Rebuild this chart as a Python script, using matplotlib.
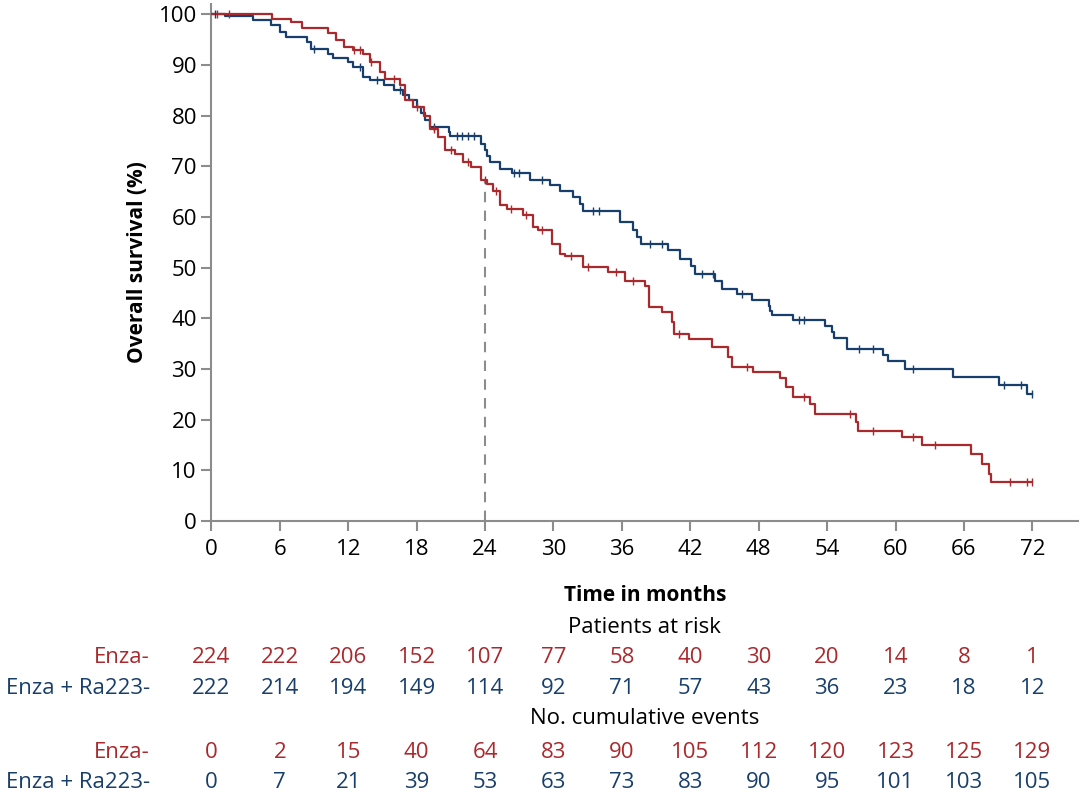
import numpy as np
import matplotlib
matplotlib.use('Agg')
import matplotlib.pyplot as plt
from matplotlib.transforms import blended_transform_factory

plt.rcParams['font.family'] = ['Open Sans', 'DejaVu Sans']

RED = '#aa292d'
BLUE = '#183f6b'
GREY = '#8c8c8c'
FS = 16      # tick labels and table
FS_B = 15    # bold axis titles

# Kaplan-Meier steps (time in months, survival %)
enza_t = [0, 5.3, 7.0, 7.9, 10.2, 10.9, 11.6, 12.4, 13.3, 13.9, 14.8, 15.2, 16.5, 17.0,
          17.7, 18.6, 19.2, 19.9, 20.5, 21.4, 22.1, 22.8, 23.6, 24.2, 24.7, 25.3, 25.9,
          27.3, 28.2, 28.6, 29.9, 30.6, 31.0, 32.6, 34.8, 36.3, 38.0, 38.4, 39.5, 40.4,
          40.6, 41.9, 43.9, 45.3, 45.7, 47.5, 49.9, 50.4, 51.0, 52.5, 52.9, 56.5, 56.7,
          60.6, 62.3, 66.6, 67.6, 68.2, 68.4, 72.0]
enza_s = [100, 99.1, 98.5, 97.3, 96.2, 94.9, 93.5, 93.0, 92.2, 90.6, 88.6, 87.3, 86.0, 83.0,
          81.7, 80.0, 77.4, 75.8, 73.1, 72.5, 70.8, 69.8, 67.2, 66.5, 65.2, 62.3, 61.5,
          60.3, 58.0, 57.5, 54.7, 52.7, 52.2, 50.1, 49.2, 47.4, 46.4, 42.2, 41.2, 39.2,
          36.9, 35.9, 34.3, 32.3, 30.3, 29.3, 28.3, 26.4, 24.4, 23.0, 21.2, 19.5, 17.7,
          16.5, 15.0, 13.2, 11.2, 9.2, 7.6, 7.6]

ra_t = [0, 1.2, 3.6, 5.2, 6.0, 6.5, 8.4, 8.7, 10.2, 10.7, 12.0, 12.4, 13.3, 13.9, 15.1,
        16.0, 16.8, 17.3, 18.0, 18.4, 18.7, 19.2, 20.8, 20.9, 23.6, 24.0, 24.2, 24.4,
        25.3, 26.4, 27.9, 29.7, 30.6, 31.7, 32.3, 32.6, 35.8, 37.0, 37.3, 37.7, 40.0,
        41.1, 42.1, 42.4, 44.2, 44.8, 46.1, 47.4, 48.9, 49.0, 49.2, 51.0, 53.8, 54.4,
        54.6, 55.7, 58.9, 59.3, 60.8, 65.0, 69.1, 71.5, 72.0]
ra_s = [100, 99.6, 98.8, 97.8, 96.5, 95.5, 94.5, 93.2, 92.2, 91.4, 90.6, 89.6, 87.6, 87.0,
        86.0, 85.0, 84.0, 83.0, 81.7, 80.4, 79.1, 77.7, 76.7, 75.9, 74.4, 73.1, 72.0,
        70.8, 69.5, 68.6, 67.3, 66.2, 65.2, 63.9, 62.5, 61.1, 59.0, 57.5, 56.0, 54.7,
        53.4, 51.7, 50.3, 48.7, 47.3, 45.8, 44.7, 43.6, 42.4, 41.5, 40.6, 39.7, 38.5,
        37.3, 36.2, 33.9, 32.8, 31.6, 30.0, 28.5, 26.9, 25.0, 25.0]

# censored observations (approximate)
enza_cens = [0.5, 1.5, 12.5, 13.0, 14.0, 16.0, 18.0, 19.5, 21.0, 22.5, 24.0, 25.0, 26.3,
             27.6, 29.0, 31.5, 33.0, 35.5, 37.0, 41.0, 47.0, 52.0, 56.0, 58.0, 61.5, 63.5,
             70.0, 71.5, 72.0]
ra_cens = [0.3, 9.0, 13.0, 14.5, 16.5, 19.5, 21.5, 22.0, 22.5, 23.0, 26.5, 27.0, 29.0,
           33.5, 34.0, 38.5, 39.5, 43.0, 44.0, 46.5, 51.5, 52.0, 56.8, 58.0, 61.5, 69.5,
           71.0, 72.0]

table_times = [0, 6, 12, 18, 24, 30, 36, 42, 48, 54, 60, 66, 72]
enza_risk = [224, 222, 206, 152, 107, 77, 58, 40, 30, 20, 14, 8, 1]
ra_risk = [222, 214, 194, 149, 114, 92, 71, 57, 43, 36, 23, 18, 12]
enza_events = [0, 2, 15, 40, 64, 83, 90, 105, 112, 120, 123, 125, 129]
ra_events = [0, 7, 21, 39, 53, 63, 73, 83, 90, 95, 101, 103, 105]


def step_value(t, s, x):
    i = np.searchsorted(t, x, side='right') - 1
    return np.asarray(s)[np.clip(i, 0, len(s) - 1)]


fig = plt.figure(figsize=(10.8, 8.02), dpi=100)
ax = fig.add_axes([0.1958, 0.3504, 0.8023, 0.6446])

ax.step(ra_t, ra_s, where='post', color=BLUE, lw=1.6, zorder=3)
ax.step(enza_t, enza_s, where='post', color=RED, lw=1.6, zorder=3)
ax.plot(ra_cens, step_value(ra_t, ra_s, ra_cens), ls='none', marker='|', ms=6,
        mew=1.0, color=BLUE, zorder=4)
ax.plot(enza_cens, step_value(enza_t, enza_s, enza_cens), ls='none', marker='|', ms=6,
        mew=1.0, color=RED, zorder=4)

# 24-month reference line
ax.plot([24, 24], [0, step_value(enza_t, enza_s, 24.0)], ls=(0, (5, 4)), color=GREY,
        lw=1.5, zorder=2)

ax.set_xlim(0, 76)
ax.set_ylim(0, 102)
ax.set_xticks(table_times)
ax.set_yticks(range(0, 101, 10))
for side in ['top', 'right']:
    ax.spines[side].set_visible(False)
for side in ['left', 'bottom']:
    ax.spines[side].set_color(GREY)
    ax.spines[side].set_linewidth(1.5)
ax.tick_params(colors=GREY, labelcolor='black', labelsize=FS, length=7, width=1.5)
ax.tick_params(axis='x', pad=6)
ax.set_ylabel('Overall survival (%)', fontsize=FS_B, fontweight='bold', labelpad=8)
ax.set_xlabel('Time in months', fontsize=FS_B, fontweight='bold', labelpad=18)

# numbers at risk / cumulative events
tr = blended_transform_factory(ax.transData, fig.transFigure)
tc = blended_transform_factory(ax.transAxes, fig.transFigure)
rows = [
    (0.1796, 'Enza-', enza_risk, RED),
    (0.1409, 'Enza + Ra223-', ra_risk, BLUE),
    (0.0623, 'Enza-', enza_events, RED),
    (0.0237, 'Enza + Ra223-', ra_events, BLUE),
]
for y, name, vals, c in rows:
    fig.text(0.1389, y, name, ha='right', va='center', color=c, fontsize=FS)
    for t, v in zip(table_times, vals):
        ax.text(t, y, str(v), transform=tr, ha='center', va='center', color=c,
                fontsize=FS, clip_on=False)

ax.text(0.5, 0.2170, 'Patients at risk', transform=tc, ha='center', va='center', fontsize=FS)
ax.text(0.5, 0.1035, 'No. cumulative events', transform=tc, ha='center', va='center',
        fontsize=FS)

fig.savefig('out.png', dpi=100)
